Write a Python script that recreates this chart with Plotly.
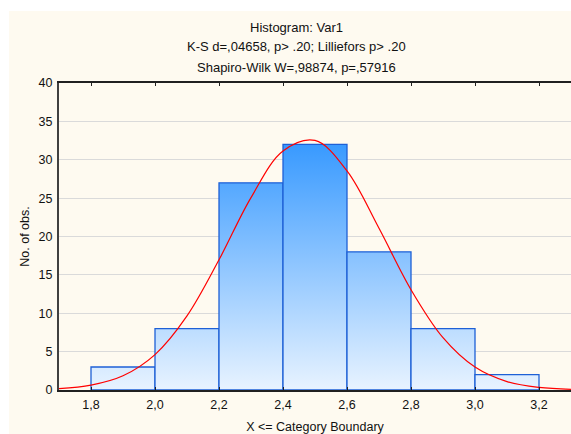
import plotly.graph_objects as go

# ---- data ----
bin_edges = [1.8, 2.0, 2.2, 2.4, 2.6, 2.8, 3.0, 3.2]
counts = [3, 8, 27, 32, 18, 8, 2]

curve_x = [1.7, 1.8, 1.9, 2.0, 2.1, 2.2, 2.3, 2.4, 2.5, 2.6, 2.7, 2.8, 2.9, 3.0, 3.1, 3.2, 3.3]
curve_y = [0.18, 0.63, 1.85, 4.61, 9.65, 16.96, 25.07, 31.14, 32.52, 28.55, 21.07, 13.07, 6.82, 2.99, 1.10, 0.34, 0.09]

x_tickvals = [1.8, 2.0, 2.2, 2.4, 2.6, 2.8, 3.0, 3.2]
x_ticktext = ["1,8", "2,0", "2,2", "2,4", "2,6", "2,8", "3,0", "3,2"]
y_tickvals = [0, 5, 10, 15, 20, 25, 30, 35, 40]

title_lines = [
    "Histogram: Var1",
    "K-S d=,04658, p> .20; Lilliefors p> .20",
    "Shapiro-Wilk W=,98874, p=,57916",
]

FONT = "Liberation Sans, Arial, sans-serif"
CREAM = "#FEFAF0"

fig = go.Figure()

for i, c in enumerate(counts):
    x0, x1 = bin_edges[i], bin_edges[i + 1]
    fig.add_trace(go.Scatter(
        x=[x0, x0, x1, x1, x0],
        y=[0, c, c, 0, 0],
        mode="lines",
        fill="toself",
        fillgradient=dict(type="vertical",
                          colorscale=[[0, "#E8F3FF"], [1, "#3397FF"]],
                          start=0, stop=33),
        line=dict(color="#1E60D6", width=1.3),
        showlegend=False,
        hoverinfo="skip",
    ))

fig.add_trace(go.Scatter(
    x=curve_x, y=curve_y, mode="lines",
    line=dict(color="#FF0000", width=1.2, shape="spline"),
    showlegend=False, hoverinfo="skip",
))

# cream panel behind everything
fig.add_shape(type="rect", xref="paper", yref="paper",
              x0=(9 - 59) / 512, x1=1.01, y0=-0.2, y1=(390 - 11) / 307,
              fillcolor=CREAM, line=dict(width=0), layer="below")

for k, t in enumerate(title_lines):
    ypix = [28, 47, 67][k]
    fig.add_annotation(text=t, xref="paper", yref="paper",
                       x=(296 - 59) / 512, y=(390 - ypix) / 307,
                       showarrow=False, xanchor="center", yanchor="middle",
                       font=dict(family=FONT, size=13, color="#111111"))

fig.update_layout(
    width=571, height=434,
    margin=dict(l=59, r=0, t=83, b=44),
    paper_bgcolor="white",
    plot_bgcolor="white",
    font=dict(family=FONT, size=12.5, color="#111111"),
    xaxis=dict(range=[1.7, 3.3], tickvals=x_tickvals, ticktext=x_ticktext,
               automargin=False,
               showgrid=False, zeroline=False,
               showline=True, linecolor="#202020", linewidth=2, mirror="ticks",
               ticks="inside", ticklen=3, tickcolor="#202020",
               ticklabelstandoff=2,
               title=dict(text="X <= Category Boundary", standoff=24,
                          font=dict(size=12.5))),
    yaxis=dict(range=[0, 40], tickvals=y_tickvals,
               automargin=False,
               showgrid=True, gridcolor="#DADADA", gridwidth=1,
               zeroline=False,
               showline=True, linecolor="#404040", linewidth=2, mirror=True,
               ticks="", ticklabelstandoff=2,
               title=dict(text="No. of obs.", standoff=6,
                          font=dict(size=12.5))),
)

fig.write_html("out.html")
